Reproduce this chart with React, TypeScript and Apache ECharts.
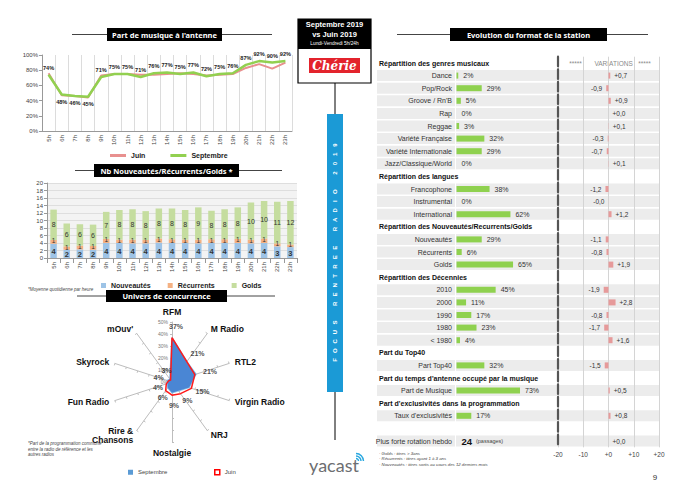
import React, { useEffect, useRef } from 'react';
import * as echarts from 'echarts';

// ---------- Left top: music share ----------
const hours = ['5h','6h','7h','8h','9h','10h','11h','12h','13h','14h','15h','16h','17h','18h','19h','20h','21h','22h','23h'];
const musicJuin = [76,47,46,44,73,75,75,74,74,75,76,75,73,74,75,83,88,82,90];
const musicSept = [74,48,46,45,71,75,75,71,76,77,75,77,72,75,76,87,92,90,92];
const labelBelow = [1,2,3];

// ---------- Left middle: Nouveautés / Récurrents / Golds ----------
const nouveautes = [3.8,2.2,2.3,2.2,4.0,4.0,3.9,3.9,4.1,4.0,4.0,3.9,4.0,4.0,4.0,3.9,4.0,3.1,2.9];
const recurrents = [1.0,0.9,1.0,1.0,1.1,0.9,1.0,0.9,1.1,1.0,0.9,1.0,1.0,1.0,1.1,1.0,1.2,0.8,0.7];
const golds = [8.1,6.1,5.7,5.7,7.2,7.9,8.1,7.7,8.0,8.2,7.9,8.6,7.6,8.0,8.4,9.9,10.0,11.1,11.6];

// ---------- Left bottom: radar (clockwise from top) ----------
const stations = ['RFM','M Radio','RTL2','Virgin Radio','NRJ','Nostalgie','Rire &\nChansons','Fun Radio','Skyrock',"mOuv'"];
const radarSept = [37,21,21,15,9,9,6,4,4,3];
const radarJuin = [37,21,20,17,12,11,9,5,3,2];
const radarMax = 50;

// ---------- Right: format ----------
const genreLabels = ['Dance','Pop/Rock',"Groove / Rn'B",'Rap','Reggae','Variété Française','Variété Internationale','Jazz/Classique/World'];
const genrePct = [2,29,5,0,3,32,29,0];
const genreVar = [0.7,-0.9,0.9,0.0,0.1,-0.3,-0.7,0.1];
const langLabels = ['Francophone','Instrumental','International'];
const langPct = [38,0,62];
const langVar = [-1.2,-0.02,1.2];
const nrgLabels = ['Nouveautés','Récurrents','Golds'];
const nrgPct = [29,6,65];
const nrgVar = [-1.1,-0.8,1.9];
const decLabels = ['2010','2000','1990','1980','< 1980'];
const decPct = [45,11,17,23,4];
const decVar = [-1.9,2.8,-0.8,-1.7,1.6];
const top40Labels = ['Part Top40'];
const top40Pct = [32];
const top40Var = [-1.5];
const musLabels = ['Part de Musique'];
const musPct = [73];
const musVar = [0.5];
const exclLabels = ["Taux d'exclusivités"];
const exclPct = [17];
const exclVar = [0.8];
const rotationLabel = 'Plus forte rotation hebdo';
const rotationValue = 24;
const rotationVar = 0.0;

const sections = [
  { title: 'Répartition des genres musicaux', labels: genreLabels, pct: genrePct, vari: genreVar },
  { title: 'Répartition des langues', labels: langLabels, pct: langPct, vari: langVar },
  { title: 'Répartition des Nouveautés/Recurrents/Golds', labels: nrgLabels, pct: nrgPct, vari: nrgVar },
  { title: 'Répartition des Décennies', labels: decLabels, pct: decPct, vari: decVar },
  { title: 'Part du Top40', labels: top40Labels, pct: top40Pct, vari: top40Var },
  { title: "Part du temps d'antenne occupé par la musique", labels: musLabels, pct: musPct, vari: musVar },
  { title: "Part d'exclusivités dans la programmation", labels: exclLabels, pct: exclPct, vari: exclVar },
];

type Row = { kind: 'header' | 'data' | 'blank' | 'rotation'; label: string; pct?: number; vari?: number };
const rows: Row[] = [];
sections.forEach((s) => {
  rows.push({ kind: 'header', label: s.title });
  s.labels.forEach((l, i) => rows.push({ kind: 'data', label: l, pct: s.pct[i], vari: s.vari[i] }));
});
rows.push({ kind: 'blank', label: '' });
rows.push({ kind: 'rotation', label: rotationLabel, pct: rotationValue, vari: rotationVar });

const FONT = 'Liberation Sans, Arial, sans-serif';
const ROW_TOP = 56.7;
const ROW_H = 12.6;
const TABLE_H = rows.length * ROW_H;
// background cell widths (layout, px): label cell, separator, value cells
const CELL_LABEL_W = 78;
const CELL_SEP_W = 1;
const CELL_REST_W = 203;

function fmtVar(v: number) {
  const neg = v < 0 || Object.is(v, -0);
  return (neg ? '-' : '+') + Math.abs(v).toFixed(1).replace('.', ',');
}

function titleBox(x: number, y: number, w: number, h: number, lx1: number, lx2: number, text: string) {
  const cy = y + h / 2;
  return [
    { type: 'line', shape: { x1: lx1, y1: cy, x2: lx2, y2: cy }, style: { stroke: '#444', lineWidth: 1 } },
    { type: 'rect', shape: { x, y, width: w, height: h }, style: { fill: '#000' } },
    { type: 'text', x: x + w / 2, y: cy, style: { text, fill: '#fff', fontSize: 7.5, fontWeight: 'bold', fontFamily: 'Noto Sans, sans-serif', align: 'center', verticalAlign: 'middle' } },
  ];
}

function buildOption(): any {
  const catIdx = rows.map((_, i) => String(i));
  const focus = 'FOCUS RENTREE RADIO 2019';
  const focusEls: any[] = [];
  const chars = focus.split('');
  chars.forEach((c, i) => {
    if (c === ' ') return;
    focusEls.push({
      type: 'text', x: 335, y: 360 - i * (215 / (chars.length - 1)), rotation: Math.PI / 2,
      style: { text: c, fill: '#fff', fontSize: 6, fontWeight: 'bold', fontFamily: FONT, align: 'center', verticalAlign: 'middle' },
    });
  });

  const ccwOrder = stations.map((_, i) => (stations.length - i) % stations.length);
  const indicators = ccwOrder.map((k, j) => {
    const ind: any = { name: stations[k], max: radarMax, min: 0 };
    if (j === 0) {
      ind.axisLabel = { show: true, fontSize: 5, color: '#777', formatter: '{value}%', margin: 4 };
    }
    return ind;
  });

  const polarLabelData = radarSept.map((v, i) => {
    const th = ((90 - i * 36) * Math.PI) / 180;
    return {
      value: [v, i * 36],
      label: { offset: [12 * Math.cos(th) + 2 + 2 * Math.max(0, Math.sin(th)), -11.5 * Math.sin(th) + 0.8] },
    };
  });

  const graphic: any[] = [
    ...titleBox(107, 28, 115, 13, 72, 272, "Part de musique à l'antenne"),
    ...titleBox(94, 164, 145, 13, 75, 282, 'Nb Nouveautés/Récurrents/Golds *'),
    ...titleBox(106, 290, 121, 12, 77, 275, 'Univers de concurrence'),
    ...titleBox(450, 28, 157, 13, 397, 648, 'Evolution du format de la station'),
    { type: 'text', x: 28, y: 287, style: { text: '*Moyenne quotidienne par heure', fill: '#444', fontSize: 4.5, fontStyle: 'italic', fontFamily: FONT } },
    { type: 'text', x: 28, y: 441, style: { text: '*Part de la programmation commune\nentre la radio de référence et les\nautres radios', fill: '#444', fontSize: 4.5, lineHeight: 5.5, fontStyle: 'italic', fontFamily: FONT } },
    // middle header box
    { type: 'line', shape: { x1: 335, y1: 83, x2: 335, y2: 114 }, style: { stroke: '#000', lineWidth: 1 } },
    { type: 'line', shape: { x1: 335, y1: 392, x2: 335, y2: 440 }, style: { stroke: '#000', lineWidth: 1 } },
    { type: 'rect', shape: { x: 298, y: 19, width: 73, height: 64 }, style: { fill: '#fff', stroke: '#000', lineWidth: 1.2 } },
    { type: 'rect', shape: { x: 298, y: 19, width: 73, height: 30 }, style: { fill: '#000' } },
    { type: 'text', x: 334.5, y: 24.5, style: { text: 'Septembre 2019', fill: '#fff', fontSize: 7.5, fontWeight: 'bold', fontFamily: FONT, align: 'center', verticalAlign: 'middle' } },
    { type: 'text', x: 334.5, y: 34, style: { text: 'vs Juin 2019', fill: '#fff', fontSize: 7.5, fontWeight: 'bold', fontFamily: FONT, align: 'center', verticalAlign: 'middle' } },
    { type: 'text', x: 334.5, y: 43, style: { text: 'Lundi-Vendredi 5h/24h', fill: '#fff', fontSize: 4.8, fontFamily: FONT, align: 'center', verticalAlign: 'middle' } },
    { type: 'rect', shape: { x: 309, y: 58, width: 51, height: 15 }, style: { fill: '#e3232c' } },
    { type: 'text', x: 334.5, y: 65.5, style: { text: 'Chérie', fill: '#fff', fontSize: 12, fontWeight: 'bold', fontStyle: 'italic', fontFamily: 'DejaVu Serif, serif', align: 'center', verticalAlign: 'middle' } },
    { type: 'rect', shape: { x: 327, y: 114, width: 16, height: 278 }, style: { fill: '#1b9ad6' } },
    ...focusEls,
    { type: 'text', x: 334, y: 465, style: { text: 'yacast', fill: '#6d6e71', fontSize: 18, fontFamily: 'Lato, sans-serif', align: 'center', verticalAlign: 'middle' } },
    { type: 'arc', shape: { cx: 356, cy: 461, r: 2.5, startAngle: -Math.PI / 2, endAngle: 0 }, style: { stroke: '#29a8e0', lineWidth: 1.4, fill: 'none' } },
    { type: 'arc', shape: { cx: 356, cy: 461, r: 5, startAngle: -Math.PI / 2, endAngle: 0 }, style: { stroke: '#29a8e0', lineWidth: 1.4, fill: 'none' } },
    { type: 'arc', shape: { cx: 356, cy: 461, r: 7.5, startAngle: -Math.PI / 2, endAngle: 0 }, style: { stroke: '#29a8e0', lineWidth: 1.4, fill: 'none' } },
    // right panel texts
    { type: 'text', x: 610, y: 63, style: { text: '*****       VARIATIONS   *****', fill: '#8a8a8a', fontSize: 6.5, fontFamily: FONT, align: 'center', verticalAlign: 'middle' } },
    { type: 'text', x: 379, y: 451, style: { text: '· Golds : titres > 3ans\n· Récurrents : titres ayant 1 à 3 ans\n· Nouveautés : titres sortis au cours des 12 derniers mois', fill: '#444', fontSize: 4.3, lineHeight: 5.3, fontStyle: 'italic', fontFamily: FONT } },
    { type: 'text', x: 655, y: 477, style: { text: '9', fill: '#333', fontSize: 8, fontFamily: FONT, align: 'center', verticalAlign: 'middle' } },
  ];

  const stackLabel = (size: number, bold: boolean, dy: number) => ({
    show: true, position: 'inside', fontSize: size, fontWeight: bold ? 'bold' : 'normal', color: '#333', offset: [0, dy],
    formatter: (p: any) => String(Math.round(p.value)),
  });

  const isCell = (r: Row) => r.kind === 'data' || r.kind === 'rotation';
  const bgSeries = (name: string, width: number, color: string) => ({
    name, type: 'bar', stack: 'bg', xAxisIndex: 4, yAxisIndex: 5, barWidth: ROW_H - 1.6, silent: true, z: 0,
    itemStyle: { color },
    data: rows.map((r) => (isCell(r) ? width : '-')),
  });

  return {
    animation: false,
    backgroundColor: '#fff',
    textStyle: { fontFamily: FONT },
    graphic,
    legend: [
      {
        left: 105, top: 147, icon: 'rect', itemWidth: 16, itemHeight: 3, itemGap: 25,
        data: ['Juin', 'Septembre'], textStyle: { fontSize: 7, fontWeight: 'bold', color: '#222' }, selectedMode: false,
      },
      {
        left: 96, top: 277, icon: 'rect', itemWidth: 5, itemHeight: 5, itemGap: 17,
        data: ['Nouveautés', 'Récurrents', 'Golds'], textStyle: { fontSize: 7, fontWeight: 'bold', color: '#222' }, selectedMode: false,
      },
      {
        left: 123, top: 464, itemWidth: 5, itemHeight: 5, itemGap: 45, selectedMode: false,
        data: [
          { name: 'Septembre ', icon: 'rect', itemStyle: { color: '#5b9bd5' } },
          { name: 'Juin ', icon: 'rect', itemStyle: { color: '#fff', borderColor: '#ff0000', borderWidth: 1.5 } },
        ],
        textStyle: { fontSize: 6, color: '#444' },
      },
    ],
    grid: [
      { left: 42, top: 55, width: 250, height: 76 },
      { left: 47, top: 183, width: 250, height: 75, show: true, backgroundColor: '#f3f3f3', borderWidth: 0 },
      { left: 456.5, top: ROW_TOP, width: 87, height: TABLE_H },
      { left: 558, top: ROW_TOP, width: 101, height: TABLE_H },
      { left: 377, top: ROW_TOP, width: CELL_LABEL_W + CELL_SEP_W + CELL_REST_W, height: TABLE_H },
    ],
    xAxis: [
      {
        gridIndex: 0, type: 'category', data: hours, boundaryGap: true,
        axisLine: { lineStyle: { color: '#999' } }, axisTick: { show: false },
        axisLabel: { rotate: 90, fontSize: 6, color: '#444', interval: 0, margin: 4 },
        splitLine: { show: true, lineStyle: { color: '#dcdcdc' } },
      },
      {
        gridIndex: 1, type: 'category', data: hours, boundaryGap: true,
        axisLine: { lineStyle: { color: '#999' } }, axisTick: { show: true, lineStyle: { color: '#999' } },
        axisLabel: { rotate: 90, fontSize: 6, color: '#444', interval: 0, margin: 4 },
      },
      { gridIndex: 2, type: 'value', min: 0, max: 100, show: false },
      {
        gridIndex: 3, type: 'value', min: -20, max: 20, interval: 10, z: 2,
        axisLine: { show: false }, axisTick: { show: false },
        axisLabel: { fontSize: 6.5, color: '#444', margin: 4, formatter: (v: number) => (v >= 0 ? '+' + v : String(v)) },
        splitLine: { show: true, lineStyle: { color: '#d4d4d4', width: 1 } },
      },
      { gridIndex: 4, type: 'value', min: 0, max: CELL_LABEL_W + CELL_SEP_W + CELL_REST_W, show: false },
    ],
    yAxis: [
      {
        gridIndex: 0, type: 'value', min: 0, max: 100, interval: 20,
        axisLine: { show: true, lineStyle: { color: '#999' } }, axisTick: { show: true, length: 3, lineStyle: { color: '#999' } },
        axisLabel: { fontSize: 6, color: '#444', formatter: '{value}%', margin: 4 },
        splitLine: { show: false },
      },
      {
        gridIndex: 1, type: 'value', min: 0, max: 20, interval: 2,
        axisLine: { show: true, lineStyle: { color: '#999' } }, axisTick: { show: true, length: 3, lineStyle: { color: '#999' } },
        axisLabel: { fontSize: 6, color: '#444', margin: 4 },
        splitLine: { show: true, lineStyle: { color: '#dedede' } },
      },
      {
        gridIndex: 2, type: 'category', data: catIdx, inverse: true, z: 2,
        axisLine: { show: false }, axisTick: { show: false },
        axisLabel: {
          interval: 0, fontSize: 7, color: '#333', margin: 4.5,
          formatter: (_v: string, i: number) => (isCell(rows[i]) ? rows[i].label : ''),
        },
      },
      {
        gridIndex: 2, type: 'category', data: catIdx, inverse: true, position: 'left',
        axisLine: { show: false }, axisTick: { show: false },
        axisLabel: {
          interval: 0, fontSize: 7, fontWeight: 'bold', color: '#111', margin: 77.5, align: 'left',
          formatter: (_v: string, i: number) => (rows[i].kind === 'header' ? rows[i].label : ''),
        },
      },
      {
        gridIndex: 3, type: 'category', data: catIdx, inverse: true, z: 2,
        axisLine: { show: true, onZero: false, lineStyle: { color: '#555', width: 2.2, type: [9.6, 3] } },
        axisTick: { show: false }, axisLabel: { show: false },
      },
      { gridIndex: 4, type: 'category', data: catIdx, inverse: true, show: false },
    ],
    radar: {
      center: [172, 382], radius: 60, startAngle: 90, shape: 'polygon', splitNumber: 5,
      indicator: indicators,
      axisName: { color: '#111', fontSize: 8.5, fontWeight: 'bold', fontFamily: FONT },
      nameGap: 6,
      splitLine: { show: false }, splitArea: { show: false },
      axisLine: { lineStyle: { color: '#bdbdbd' } },
      axisTick: { show: true, length: 2, lineStyle: { color: '#bdbdbd' } },
      axisLabel: { show: false },
    },
    polar: { center: [172, 382], radius: 60 },
    angleAxis: { type: 'value', min: 0, max: 360, startAngle: 90, clockwise: true, show: false },
    radiusAxis: { type: 'value', min: 0, max: radarMax, show: false },
    series: [
      {
        name: 'Juin', type: 'line', xAxisIndex: 0, yAxisIndex: 0, data: musicJuin, symbol: 'none',
        lineStyle: { color: '#e8908f', width: 2 }, itemStyle: { color: '#e8908f' }, z: 2,
      },
      {
        name: 'Septembre', type: 'line', xAxisIndex: 0, yAxisIndex: 0, symbol: 'circle', symbolSize: 0.1, showSymbol: true, z: 3,
        data: musicSept.map((v, i) => ({ value: v, label: { position: labelBelow.includes(i) ? 'bottom' : 'top' } })),
        lineStyle: { color: '#92d050', width: 2.5 }, itemStyle: { color: '#92d050' },
        label: { show: true, fontSize: 5.6, fontWeight: 'bold', color: '#222', distance: 4, formatter: '{c}%' },
        labelLayout: { hideOverlap: false },
      },
      {
        name: 'Nouveautés', type: 'bar', stack: 'nrg', xAxisIndex: 1, yAxisIndex: 1, data: nouveautes, barWidth: 6.5,
        itemStyle: { color: '#9dc3e6' }, label: stackLabel(7.5, true, 1),
      },
      {
        name: 'Récurrents', type: 'bar', stack: 'nrg', xAxisIndex: 1, yAxisIndex: 1, data: recurrents, barWidth: 6.5,
        itemStyle: { color: '#f4b183' }, label: stackLabel(6.5, false, -1),
      },
      {
        name: 'Golds', type: 'bar', stack: 'nrg', xAxisIndex: 1, yAxisIndex: 1, data: golds, barWidth: 6.5,
        itemStyle: { color: '#c5dd9f' }, label: stackLabel(7, false, 0),
      },
      {
        name: 'Univers', type: 'radar', symbol: 'none',
        data: [
          {
            name: 'Septembre ', value: ccwOrder.map((k) => radarSept[k]),
            areaStyle: { color: '#4a86d4', opacity: 1 }, lineStyle: { color: '#8ec3ea', width: 1.5 }, itemStyle: { color: '#5b9bd5' },
          },
          {
            name: 'Juin ', value: ccwOrder.map((k) => radarJuin[k]),
            lineStyle: { color: '#ff1a1a', width: 1.5 }, itemStyle: { color: '#ff1a1a' },
          },
        ],
      },
      {
        name: 'radarLabels', type: 'scatter', coordinateSystem: 'polar', symbolSize: 0.1, z: 5,
        itemStyle: { color: 'rgba(0,0,0,0)' }, silent: true,
        data: polarLabelData,
        label: { show: true, position: 'inside', fontSize: 7, fontWeight: 'bold', color: '#222', formatter: (p: any) => p.value[0] + '%' },
      },
      bgSeries('bgLabel', CELL_LABEL_W, '#ececec'),
      bgSeries('bgSep', CELL_SEP_W, '#ffffff'),
      bgSeries('bgRest', CELL_REST_W, '#ececec'),
      {
        name: 'pct', type: 'bar', xAxisIndex: 2, yAxisIndex: 2, barWidth: 6, z: 3,
        itemStyle: { color: '#8fd14f' },
        label: { show: true, position: 'right', distance: 5, fontSize: 7, color: '#333', formatter: '{c}%' },
        data: rows.map((r) => {
          if (r.kind === 'data') return { value: r.pct };
          if (r.kind === 'rotation')
            return {
              value: 0,
              label: {
                formatter: '{n|' + r.pct + '}  {p|(passages)}',
                rich: { n: { fontSize: 9.5, fontWeight: 'bold', color: '#111' }, p: { fontSize: 5.5, color: '#444' } },
              },
            };
          return '-';
        }),
      },
      {
        name: 'variation', type: 'bar', xAxisIndex: 3, yAxisIndex: 4, barWidth: 6, z: 3,
        itemStyle: { color: '#e69a9a' },
        label: { show: true, distance: 4, fontSize: 6.5, color: '#333', formatter: (p: any) => fmtVar(p.value) },
        data: rows.map((r) => {
          if (isCell(r)) {
            const v = r.vari as number;
            const neg = v < 0 || Object.is(v, -0);
            return { value: v, label: { position: neg ? 'left' : 'right' } };
          }
          return '-';
        }),
      },
    ],
  };
}

export default function App() {
  const ref = useRef<HTMLDivElement>(null);
  useEffect(() => {
    const chart = echarts.init(ref.current as HTMLDivElement, null, { renderer: 'svg' });
    chart.setOption(buildOption());
    return () => chart.dispose();
  }, []);
  return <div ref={ref} style={{ position: 'fixed', left: 0, top: 0, width: 689, height: 489, background: '#fff' }} />;
}
